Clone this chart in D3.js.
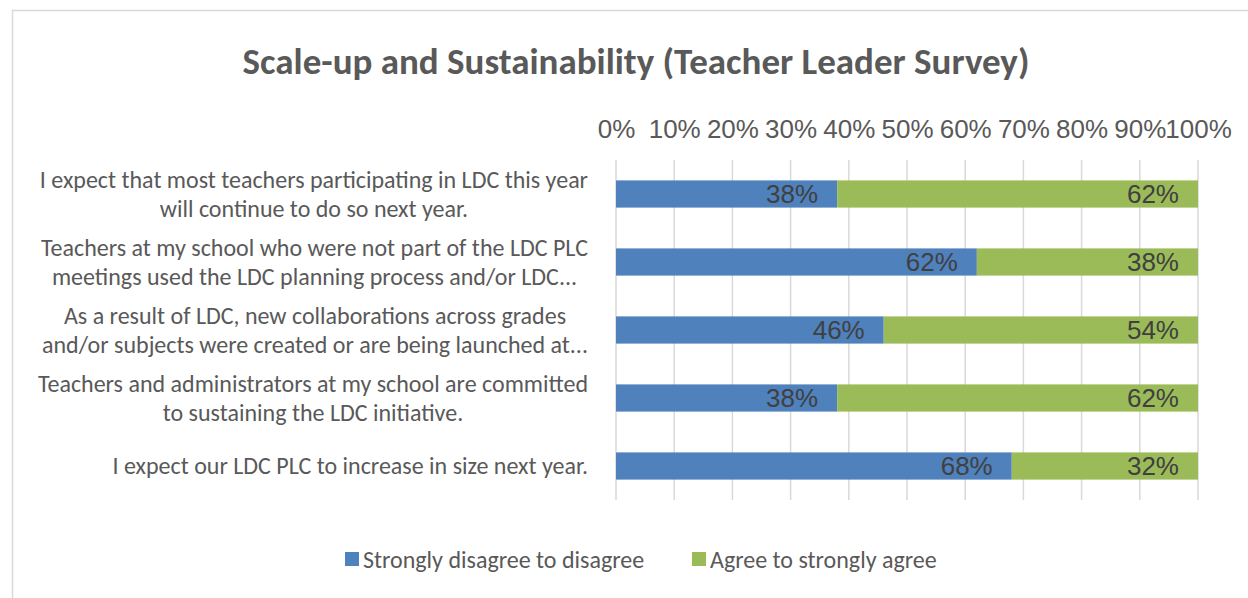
<!DOCTYPE html>
<html>
<head>
<meta charset="utf-8">
<script src="https://cdn.jsdelivr.net/npm/d3@7"></script>
<style>
  body { margin: 0; background: #fff; }
  svg { display: block; }
  .cat { font-family: Carlito, Lato, "Open Sans", sans-serif; fill: #595959; }
  .num { font-family: "Liberation Sans Narrow", "Arial Narrow", "Liberation Sans", sans-serif; }
</style>
</head>
<body>
<svg id="chart"></svg>
<script>
// survey statements (pre-wrapped as in the original chart)
const categories = [
  ["I expect that most teachers participating in LDC this year", "will continue to do so next year."],
  ["Teachers at my school who were not part of the LDC PLC", "meetings used the LDC planning process and/or LDC..."],
  ["As a result of LDC, new collaborations across grades", "and/or subjects were created or are being launched at..."],
  ["Teachers and administrators at my school are committed", "to sustaining the LDC initiative."],
  ["I expect our LDC PLC to increase in size next year."]
];
const disagree = [38, 62, 46, 38, 68];
const agree = [62, 38, 54, 62, 32];
const seriesNames = ["Strongly disagree to disagree", "Agree to strongly agree"];
const colors = ["#4F81BD", "#9BBB59"];
const ticks = [0, 10, 20, 30, 40, 50, 60, 70, 80, 90, 100];

const W = 1248, H = 598;
const svg = d3.select("#chart").attr("width", W).attr("height", H);

// outer chart border
svg.append("rect")
  .attr("x", 12.5).attr("y", 10.5)
  .attr("width", W).attr("height", H)
  .attr("fill", "none").attr("stroke", "#d9d9d9").attr("stroke-width", 1.5);

svg.append("text")
  .attr("class", "cat")
  .attr("x", 636).attr("y", 74)
  .attr("text-anchor", "middle")
  .style("font-weight", "bold").style("font-size", "37px")
  .text("Scale-up and Sustainability (Teacher Leader Survey)");

const x = d3.scaleLinear().domain([0, 100]).range([616, 1198]);
const y = d3.scaleBand().domain(d3.range(categories.length))
  .range([160, 500]).paddingInner(0.6).paddingOuter(0.3);

// gridlines
svg.append("g").selectAll("line")
  .data(ticks).join("line")
  .attr("x1", d => x(d)).attr("x2", d => x(d))
  .attr("y1", 160).attr("y2", 500)
  .attr("stroke", "#d9d9d9").attr("stroke-width", 1.5);

// top axis labels
const axis = svg.append("g")
  .attr("transform", "translate(0,138)")
  .call(d3.axisTop(x).tickValues(ticks).tickSize(0).tickPadding(0).tickFormat(d => d + "%"));
axis.select(".domain").remove();
axis.selectAll("text")
  .attr("class", "num")
  .attr("fill", "#595959")
  .style("font-size", "26px");

const rows = disagree.map((d, i) => ({ i, parts: [[0, d, 0], [d, d + agree[i], 1]] }));

const bars = svg.append("g").selectAll("g")
  .data(rows).join("g");

bars.selectAll("rect")
  .data(r => r.parts.map(p => ({ i: r.i, p })))
  .join("rect")
  .attr("x", d => x(d.p[0]))
  .attr("width", d => x(d.p[1]) - x(d.p[0]))
  .attr("y", d => y(d.i))
  .attr("height", y.bandwidth())
  .attr("fill", d => colors[d.p[2]]);

bars.selectAll("text")
  .data(r => r.parts.map(p => ({ i: r.i, p })))
  .join("text")
  .attr("class", "num")
  .attr("x", d => x(d.p[1]) - 19)
  .attr("y", d => y(d.i) + y.bandwidth() / 2)
  .attr("dy", "0.36em")
  .attr("text-anchor", "end")
  .attr("fill", "#404040")
  .style("font-size", "26px")
  .text(d => (d.p[1] - d.p[0]) + "%");

// category labels: centred lines, block right-aligned to the plot
const labelRight = 588, lineH = 29;
categories.forEach((lines, i) => {
  const g = svg.append("g");
  const cy = y(i) + y.bandwidth() / 2;
  const texts = lines.map((s, k) => g.append("text")
    .attr("class", "cat")
    .style("font-size", "24px")
    .attr("y", cy + (k - (lines.length - 1) / 2) * lineH)
    .attr("dy", "0.35em")
    .attr("text-anchor", "middle")
    .text(s));
  const maxW = d3.max(texts, t => t.node().getComputedTextLength());
  texts.forEach(t => t.attr("x", labelRight - maxW / 2));
});

// legend
const legendX = [345, 692];
const leg = svg.append("g").selectAll("g")
  .data(seriesNames).join("g")
  .attr("transform", (d, i) => `translate(${legendX[i]},560)`);
leg.append("rect")
  .attr("x", 0).attr("y", -8).attr("width", 14).attr("height", 14)
  .attr("fill", (d, i) => colors[i]);
leg.append("text")
  .attr("class", "cat")
  .attr("x", 18).attr("dy", "0.35em")
  .style("font-size", "24px")
  .text(d => d);
</script>
</body>
</html>
